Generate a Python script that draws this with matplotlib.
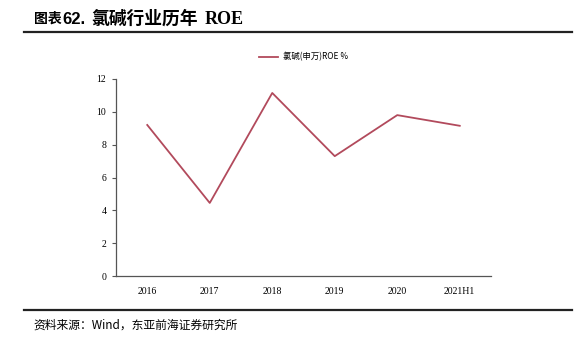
import matplotlib
matplotlib.use("Agg")
import matplotlib.pyplot as plt
from matplotlib.lines import Line2D

categories = ['2016', '2017', '2018', '2019', '2020', '2021H1']
roe = [9.2, 4.45, 11.15, 7.3, 9.8, 9.15]
yticks = [0, 2, 4, 6, 8, 10, 12]

cjk = ['Noto Sans CJK SC', 'DejaVu Sans']
serif = ['Liberation Serif', 'Noto Sans CJK SC']
line_color = '#B24A5C'

fig = plt.figure(figsize=(5.81, 3.51), dpi=100)
ax = fig.add_axes([116 / 581, 1 - 276 / 351, 375 / 581, 197 / 351])

x = list(range(len(categories)))
ax.plot(x, roe, color=line_color, lw=1.3, label='氯碱(申万)ROE %')

ax.set_xlim(-0.5, len(categories) - 0.5)
ax.set_ylim(0, 12)
ax.set_yticks(yticks)
ax.set_xticks(x)
ax.set_xticklabels(categories, family=serif, fontsize=7)
ax.set_yticklabels([str(v) for v in yticks], family=serif, fontsize=7)
ax.tick_params(axis='x', length=0, pad=8)
ax.tick_params(axis='y', length=3, width=0.8, color='#555555', pad=4)
for s in ['top', 'right']:
    ax.spines[s].set_visible(False)
for s in ['left', 'bottom']:
    ax.spines[s].set_color('#555555')
    ax.spines[s].set_linewidth(0.9)

leg = ax.legend(loc='lower center', bbox_to_anchor=(0.5, 1.05), frameon=False,
                prop={'family': cjk, 'size': 6}, handlelength=2.2, handletextpad=0.6)

# title, rules, source
ty = 1 - 19 / 351
fig.text(34 / 581, ty, '图表', family=cjk, fontsize=10, fontweight='bold', va='center')
fig.text(62 / 581, ty, '62.', family='Liberation Sans', fontsize=12, fontweight='bold', va='center')
fig.text(91 / 581, ty, '氯碱行业历年', family=cjk, fontsize=12.8, fontweight='bold', va='center')
fig.text(205 / 581, ty, 'ROE', family='Liberation Serif', fontsize=13, fontweight='bold', va='center')

fig.add_artist(Line2D([24 / 581, 572 / 581], [1 - 32 / 351, 1 - 32 / 351], color='#222222', lw=1.6))
fig.add_artist(Line2D([24 / 581, 572 / 581], [1 - 310 / 351, 1 - 310 / 351], color='#222222', lw=1.6))

fig.text(33 / 581, 1 - 325 / 351, '资料来源：Wind，东亚前海证券研究所', family=cjk, fontsize=8.5, va='center')

fig.savefig('out.png', dpi=100)
